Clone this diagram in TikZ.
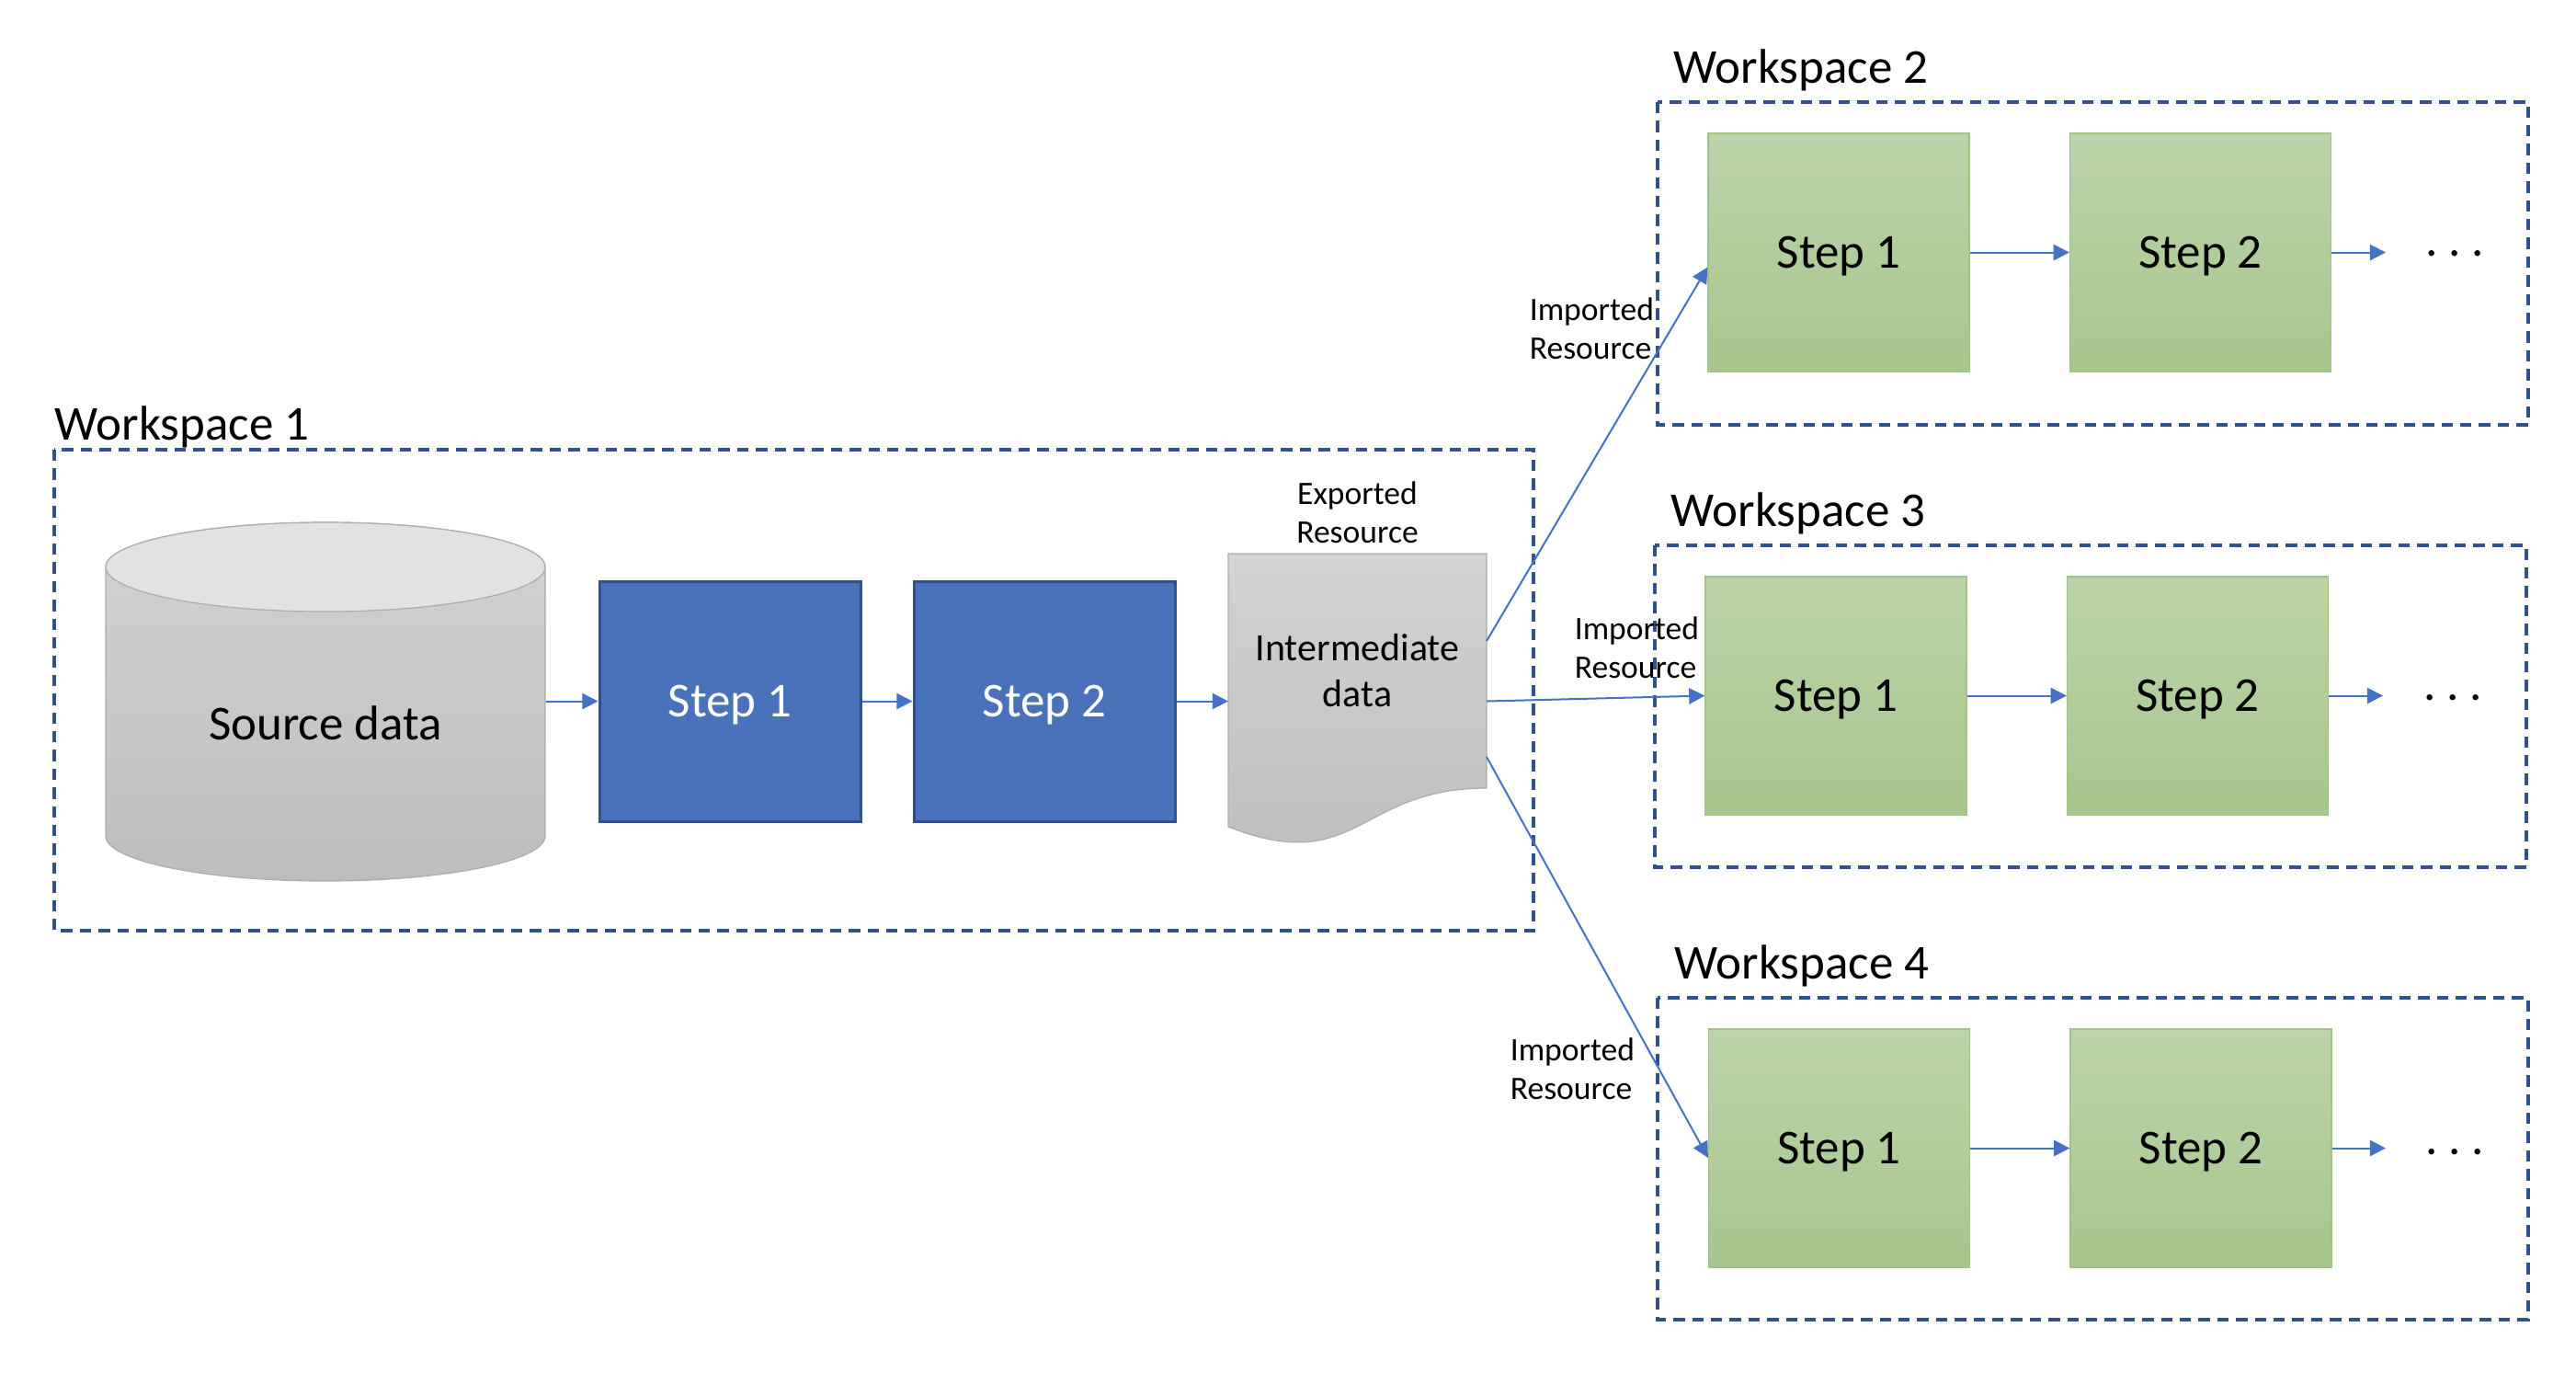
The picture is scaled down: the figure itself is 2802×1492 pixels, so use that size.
\documentclass[tikz,border=0pt]{standalone}
\usepackage{fontspec}
\setmainfont{Carlito}
\usetikzlibrary{arrows.meta,calc}
\definecolor{dashblue}{RGB}{47,82,143}
\definecolor{arrblue}{RGB}{68,114,196}
\definecolor{boxblue}{RGB}{74,114,187}
\definecolor{greentop}{RGB}{187,212,170}
\definecolor{greenbot}{RGB}{166,198,141}
\definecolor{greenline}{RGB}{160,196,132}
\definecolor{graytop}{RGB}{211,211,211}
\definecolor{graybot}{RGB}{189,189,189}
\definecolor{grayend}{RGB}{226,226,226}
\definecolor{grayline}{RGB}{172,172,172}
\newcommand{\bigf}{\fontsize{13.25}{16}\selectfont}
\newcommand{\midf}{\fontsize{10.5}{12.5}\selectfont}
\newcommand{\smallf}{\fontsize{8.9}{10.5}\selectfont}
\begin{document}
\begin{tikzpicture}[x=0.25pt,y=-0.25pt,
  wsbox/.style={draw=dashblue, line width=0.9pt, dash pattern=on 3.1pt off 2pt},
  wstitle/.style={anchor=base west, inner sep=0pt, font=\bigf},
  bluestep/.style={draw=dashblue, line width=0.75pt, fill=boxblue, text=white, font=\bigf,
    minimum width=71pt, minimum height=65.25pt, inner sep=0pt, text depth=0pt},
  greenstep/.style={draw=greenline, line width=0.3pt, top color=greentop, bottom color=greenbot,
    font=\bigf, minimum width=71pt, minimum height=64.75pt, inner sep=0pt, text depth=0pt},
  arr/.style={draw=arrblue, line width=0.5pt, -{Triangle[length=4.3pt,width=4.3pt]}},
  lbl/.style={anchor=base west, inner sep=0pt, font=\smallf},
  dots/.style={anchor=base west, inner sep=0pt, font=\bigf}
]
\useasboundingbox (0,0) rectangle (2802,1492);

% workspace frames
\draw[wsbox] (59,489) rectangle (1668,1012);
\draw[wsbox] (1803,111) rectangle (2750,462);
\draw[wsbox] (1800,593) rectangle (2748,943);
\draw[wsbox] (1803,1085) rectangle (2750,1435);

\node[wstitle] (t1) at (59,478) {Workspace 1};
\node[wstitle] (t2) at (1820,90) {Workspace 2};
\node[wstitle] (t3) at (1817,572) {Workspace 3};
\node[wstitle] (t4) at (1821,1064) {Workspace 4};

% source cylinder
\path[draw=grayline, line width=0.3pt, top color=graytop, bottom color=graybot]
  (115,616.5) -- (115,909)
  arc[start angle=180, end angle=360, x radius=59.75pt, y radius=12.25pt]
  -- (593,616.5)
  arc[start angle=0, end angle=180, x radius=59.75pt, y radius=12.125pt] -- cycle;
\draw[draw=grayline, line width=0.3pt, fill=grayend] (354,616.5) ellipse[x radius=59.75pt, y radius=12.125pt];
\node[minimum width=119.5pt, minimum height=60pt, inner sep=0pt] (src) at (354,762.5) {};
\node[font=\bigf, anchor=base, inner sep=0pt] (srctxt) at (354,804) {Source data};

% blue steps
\node[bluestep] (b1) at (794,762.5) {Step 1};
\node[bluestep] (b2) at (1136,762.5) {Step 2};

% intermediate document
\path[draw=grayline, line width=0.3pt, top color=graytop, bottom color=graybot]
  (1336,602) -- (1617,602) -- (1617,857)
  .. controls (1476.5,857) and (1476.5,954) .. (1336,899) -- cycle;
\node[font=\midf, anchor=base, inner sep=0pt] (doc) at (1476.5,718)
  {\begin{tabular}[t]{@{}c@{}}Intermediate\\data\end{tabular}};
\node[lbl, anchor=base] (exp) at (1476.5,548)
  {\begin{tabular}[t]{@{}c@{}}Exported\\Resource\end{tabular}};
\coordinate (docW) at (1336,762.5);
\coordinate (docE1) at (1617,697);
\coordinate (docE2) at (1617,762.5);
\coordinate (docE3) at (1617,823);

\draw[arr] (src.east) -- (b1.west);
\draw[arr] (b1.east) -- (b2.west);
\draw[arr] (b2.east) -- (docW);

% workspace 2
\node[greenstep] (w2s1) at (2000,274.5) {Step 1};
\node[greenstep] (w2s2) at (2393.5,274.5) {Step 2};
\coordinate (w2e) at (2595,274.5);
\draw[arr] (w2s1.east) -- (w2s2.west);
\draw[arr] (w2s2.east) -- (w2e);
\node[dots] (w2d) at (2638,278) {.\hspace{0.22em}.\hspace{0.22em}.};

% workspace 3
\node[greenstep] (w3s1) at (1997,756.5) {Step 1};
\node[greenstep] (w3s2) at (2390.5,756.5) {Step 2};
\coordinate (w3e) at (2592,756.5);
\draw[arr] (w3s1.east) -- (w3s2.west);
\draw[arr] (w3s2.east) -- (w3e);
\node[dots] (w3d) at (2636,761) {.\hspace{0.22em}.\hspace{0.22em}.};

% workspace 4
\node[greenstep] (w4s1) at (2000.5,1248.5) {Step 1};
\node[greenstep] (w4s2) at (2394,1248.5) {Step 2};
\coordinate (w4e) at (2595,1248.5);
\draw[arr] (w4s1.east) -- (w4s2.west);
\draw[arr] (w4s2.east) -- (w4e);
\node[dots] (w4d) at (2638,1255) {.\hspace{0.22em}.\hspace{0.22em}.};

% imports
\draw[arr] (docE1) -- ($(w2s1.west)+(0,16)$);
\draw[arr] (docE2) -- (w3s1.west);
\draw[arr] (docE3) -- ($(w4s1.west)+(0,10.5)$);

\node[lbl] (i2) at (1663,348) {\begin{tabular}[t]{@{}l@{}}Imported\\Resource\end{tabular}};
\node[lbl] (i3) at (1712,695) {\begin{tabular}[t]{@{}l@{}}Imported\\Resource\end{tabular}};
\node[lbl] (i4) at (1642,1153) {\begin{tabular}[t]{@{}l@{}}Imported\\Resource\end{tabular}};
\end{tikzpicture}
\end{document}
